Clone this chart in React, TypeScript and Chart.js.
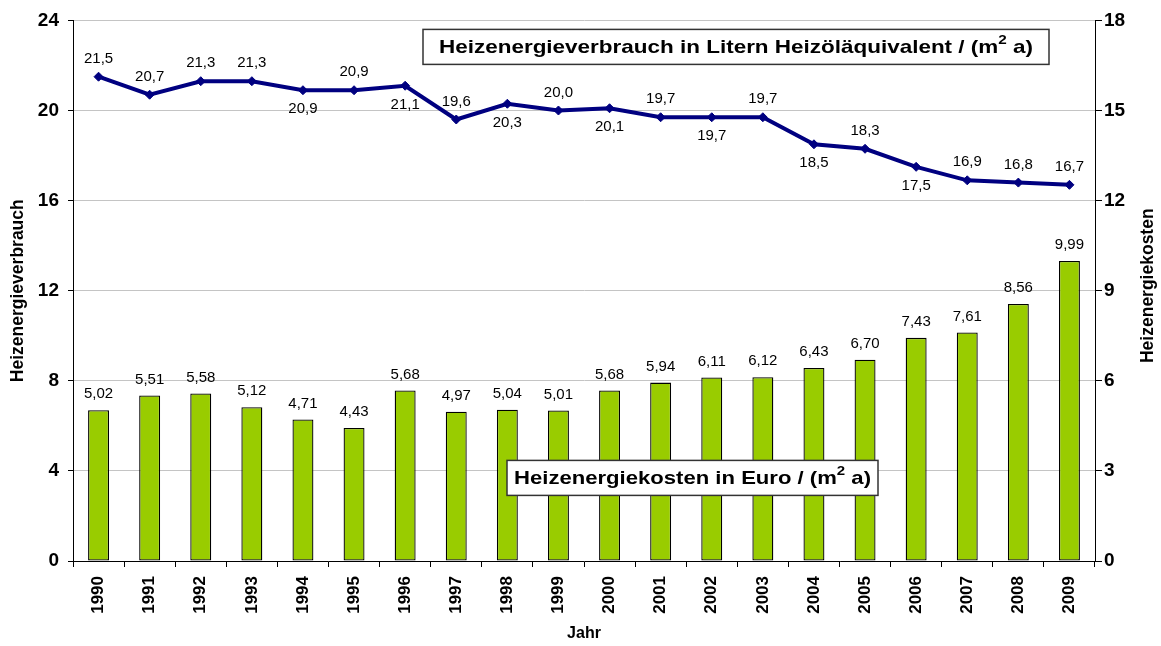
import React, { useEffect, useRef } from 'react';
import { Chart, registerables } from 'chart.js';

Chart.register(...registerables);

const FONT = '"Liberation Sans", Arial, Helvetica, sans-serif';

const years = ['1990', '1991', '1992', '1993', '1994', '1995', '1996', '1997', '1998', '1999', '2000', '2001', '2002', '2003', '2004', '2005', '2006', '2007', '2008', '2009'];
const verbrauch = [21.5, 20.7, 21.3, 21.3, 20.9, 20.9, 21.1, 19.6, 20.3, 20.0, 20.1, 19.7, 19.7, 19.7, 18.5, 18.3, 17.5, 16.9, 16.8, 16.7];
const kosten = [5.02, 5.51, 5.58, 5.12, 4.71, 4.43, 5.68, 4.97, 5.04, 5.01, 5.68, 5.94, 6.11, 6.12, 6.43, 6.70, 7.43, 7.61, 8.56, 9.99];
const verbrauchLabelSide = ['above', 'above', 'above', 'above', 'below', 'above', 'below', 'above', 'below', 'above', 'below', 'above', 'below', 'above', 'below', 'above', 'below', 'above', 'above', 'above'];

const leftTicks = { min: 0, max: 24, step: 4 };
const rightTicks = { min: 0, max: 18, step: 3 };

const titleTop = ['Heizenergieverbrauch in Litern Heizöläquivalent / (m', '2', ' a)'];
const titleBottom = ['Heizenergiekosten in Euro / (m', '2', ' a)'];

const fmt = (v: number, d: number) => v.toFixed(d).replace('.', ',');

function drawBox(ctx: CanvasRenderingContext2D, parts: string[], x: number, y: number, w: number, h: number, textW: number) {
  ctx.save();
  ctx.fillStyle = '#ffffff';
  ctx.fillRect(x, y, w, h);
  ctx.strokeStyle = '#333333';
  ctx.lineWidth = 1.5;
  ctx.strokeRect(x, y, w, h);
  const size = 18.5;
  const mainFont = `bold ${size}px ${FONT}`;
  const supFont = `bold ${size * 0.68}px ${FONT}`;
  ctx.font = mainFont;
  const w0 = ctx.measureText(parts[0]).width;
  const w2 = ctx.measureText(parts[2]).width;
  ctx.font = supFont;
  const w1 = ctx.measureText(parts[1]).width;
  const total = w0 + w1 + w2;
  const sx = textW / total;
  ctx.translate(x + w / 2 - textW / 2, y + h / 2 + 1);
  ctx.scale(sx, 1);
  ctx.fillStyle = '#000000';
  ctx.textAlign = 'left';
  ctx.textBaseline = 'middle';
  ctx.font = mainFont;
  ctx.fillText(parts[0], 0, 0);
  ctx.font = supFont;
  ctx.fillText(parts[1], w0, -size * 0.4);
  ctx.font = mainFont;
  ctx.fillText(parts[2], w0 + w1, 0);
  ctx.restore();
}

const overlay = {
  id: 'overlay',
  afterDatasetsDraw(chart: any) {
    const { ctx, chartArea } = chart;
    ctx.save();
    ctx.fillStyle = '#000000';
    ctx.textAlign = 'center';
    ctx.textBaseline = 'middle';
    ctx.font = `15px ${FONT}`;
    const barMeta = chart.getDatasetMeta(0);
    barMeta.data.forEach((bar: any, i: number) => {
      ctx.fillText(fmt(kosten[i], 2), bar.x, bar.y - 16);
    });
    const lineMeta = chart.getDatasetMeta(1);
    lineMeta.data.forEach((pt: any, i: number) => {
      const dy = verbrauchLabelSide[i] === 'above' ? -18 : 19;
      ctx.fillText(fmt(verbrauch[i], 1), pt.x, pt.y + dy);
    });
    ctx.restore();

    const L = chartArea.left;
    const T = chartArea.top;
    drawBox(ctx, titleTop, L + 350, T + 9, 626, 35, 594);
    drawBox(ctx, titleBottom, L + 434, T + 440, 371, 35, 357);

    ctx.save();
    ctx.translate(chart.width - 13, (chartArea.top + chartArea.bottom) / 2 - 5);
    ctx.rotate(-Math.PI / 2);
    ctx.font = `bold 17.5px ${FONT}`;
    ctx.fillStyle = '#000000';
    ctx.textAlign = 'center';
    ctx.textBaseline = 'middle';
    ctx.fillText('Heizenergiekosten', 0, 0);
    ctx.restore();
  },
};

export default function App() {
  const ref = useRef<HTMLCanvasElement | null>(null);
  useEffect(() => {
    if (!ref.current) return;
    const chart = new Chart(ref.current, {
      type: 'bar',
      data: {
        labels: years,
        datasets: [
          {
            type: 'bar',
            label: 'Heizenergiekosten',
            data: kosten,
            yAxisID: 'y1',
            backgroundColor: '#99CC00',
            borderColor: '#000000',
            borderWidth: 1.3,
            borderSkipped: false,
            barPercentage: 0.41,
            categoryPercentage: 1.0,
            order: 2,
          } as any,
          {
            type: 'line',
            label: 'Heizenergieverbrauch',
            data: verbrauch,
            yAxisID: 'y',
            borderColor: '#000080',
            backgroundColor: '#000080',
            borderWidth: 4,
            pointStyle: 'rectRot',
            pointRadius: 4.5,
            pointBackgroundColor: '#000080',
            pointBorderColor: '#000080',
            pointBorderWidth: 1,
            tension: 0,
            fill: false,
            order: 1,
          } as any,
        ],
      },
      options: {
        responsive: false,
        animation: false,
        devicePixelRatio: 1,
        layout: { padding: { top: 19, left: 0, right: 0, bottom: 0 } },
        plugins: {
          legend: { display: false },
          tooltip: { enabled: false },
        },
        scales: {
          x: {
            offset: true,
            grid: { offset: true, drawOnChartArea: false, drawTicks: true, tickLength: 6, tickColor: '#000000' },
            border: { color: '#000000', width: 1 },
            ticks: {
              autoSkip: false,
              minRotation: 90,
              maxRotation: 90,
              padding: 9,
              color: '#000000',
              font: { family: FONT, size: 17, weight: 'bold' },
            },
            title: {
              display: true,
              text: 'Jahr',
              color: '#000000',
              font: { family: FONT, size: 16, weight: 'bold', lineHeight: 1.1 },
              padding: { top: 0, bottom: 4 },
            },
            afterFit: (s: any) => { s.height = 85; },
          },
          y: {
            position: 'left',
            min: leftTicks.min,
            max: leftTicks.max,
            grid: { color: '#c4c4c4', tickColor: '#000000', tickLength: 5, lineWidth: 1 },
            border: { color: '#000000', width: 1 },
            ticks: {
              stepSize: leftTicks.step,
              padding: 9,
              color: '#000000',
              font: { family: FONT, size: 19, weight: 'bold' },
            },
            title: {
              display: true,
              text: 'Heizenergieverbrauch',
              color: '#000000',
              font: { family: FONT, size: 17.5, weight: 'bold', lineHeight: 2.06 },
              padding: 0,
            },
            afterFit: (s: any) => { s.width = 73; },
          },
          y1: {
            position: 'right',
            min: rightTicks.min,
            max: rightTicks.max,
            grid: { drawOnChartArea: false, tickColor: '#000000', tickLength: 7 },
            border: { color: '#000000', width: 1 },
            ticks: {
              stepSize: rightTicks.step,
              padding: 2,
              color: '#000000',
              font: { family: FONT, size: 19, weight: 'bold' },
            },
            afterFit: (s: any) => { s.width = 66; },
          },
        },
      } as any,
      plugins: [overlay],
    });
    return () => chart.destroy();
  }, []);
  return (
    <div style={{ position: 'absolute', left: 0, top: 0, width: 1161, height: 646, background: '#ffffff' }}>
      <canvas ref={ref} width={1161} height={646} style={{ display: 'block', width: 1161, height: 646 }} />
    </div>
  );
}
